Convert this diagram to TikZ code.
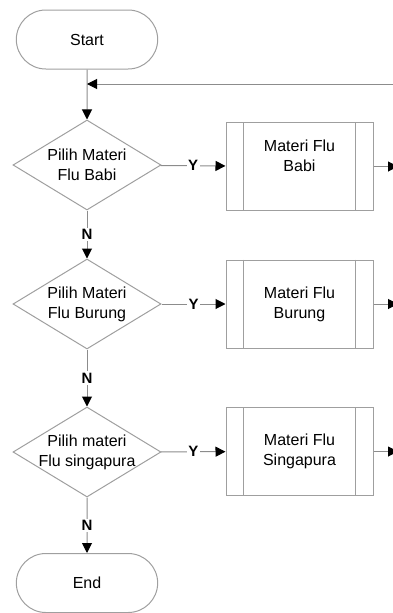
\documentclass[tikz,border=0pt]{standalone}
\usepackage{fontspec}
\setmainfont{Liberation Sans}
\usetikzlibrary{shapes.geometric, shapes.misc, arrows.meta, positioning}

\begin{document}
\begin{tikzpicture}[x=1pt, y=-1pt, line width=1pt, every node/.style={font=\fontsize{16}{20}\selectfont}]
	\tikzstyle{terminal_style}=[rounded rectangle, draw=gray!75, minimum width=148pt, minimum height=59pt]
	\tikzstyle{decision_style}=[diamond, draw=gray!75, minimum width=148pt, minimum height=90pt, inner sep=0pt]
	\tikzstyle{process_style}=[rectangle, draw=gray!75, minimum width=147pt, minimum height=88pt]
	\tikzstyle{text_style}=[align=center, inner sep=0pt]
	\tikzstyle{answer_style}=[font=\fontsize{15}{16}\selectfont\bfseries, fill=white, inner sep=1.5pt]
	\tikzstyle{flow_style}=[draw=gray!90, -{Triangle[length=10pt, width=10pt, color=black]}]

	\useasboundingbox (0,0) rectangle (392,613);

	% start / end
	\node at (87, 39.5) [terminal_style] (start) {Start};
	\node at (87, 583) [terminal_style] (end) {End};

	% decisions
	\node at (87, 165) [decision_style, label={[text_style]center:Pilih Materi\\Flu Babi}] (dec_1) {};
	\node at (87, 304) [decision_style, label={[text_style]center:Pilih Materi\\Flu Burung}] (dec_2) {};
	\node at (87, 452) [decision_style, label={[text_style]center:Pilih materi\\Flu singapura}] (dec_3) {};

	% materi
	\node at (299.5, 166.5) [process_style, label={[text_style, yshift=11pt]center:Materi Flu\\Babi}] (materi_1) {};
	\node at (299.5, 304) [process_style, label={[text_style]center:Materi Flu\\Burung}] (materi_2) {};
	\node at (299.5, 451.5) [process_style, label={[text_style]center:Materi Flu\\Singapura}] (materi_3) {};
	\foreach \i in {1,...,3} {
		\draw[gray!75] ([xshift=18pt]materi_\i.north west) -- ([xshift=18pt]materi_\i.south west);
		\draw[gray!75] ([xshift=-18pt]materi_\i.north east) -- ([xshift=-18pt]materi_\i.south east);
	}

	% loop back
	\coordinate (back) at (87, 84);
	\coordinate (back_in) at (400, 84);
	\foreach \i in {1,...,3}
		\coordinate (out_\i) at (398, 0 |- materi_\i.east);

	% connect: start -> decision 1
	\path[flow_style] (start) edge (dec_1);
	\path[flow_style] (back_in) edge (back);

	% connect: decision -> decision -> end
	\path[flow_style] (dec_1) edge node[answer_style] {N} (dec_2);
	\path[flow_style] (dec_2) edge node[answer_style] {N} (dec_3);
	\path[flow_style] (dec_3) edge node[answer_style] {N} (end);

	% connect: decision -> materi -> out
	\foreach \i in {1,...,3} {
		\path[flow_style] (dec_\i) edge node[answer_style] {Y} (materi_\i);
		\path[flow_style] (materi_\i) edge (out_\i);
	}

\end{tikzpicture}
\end{document}
